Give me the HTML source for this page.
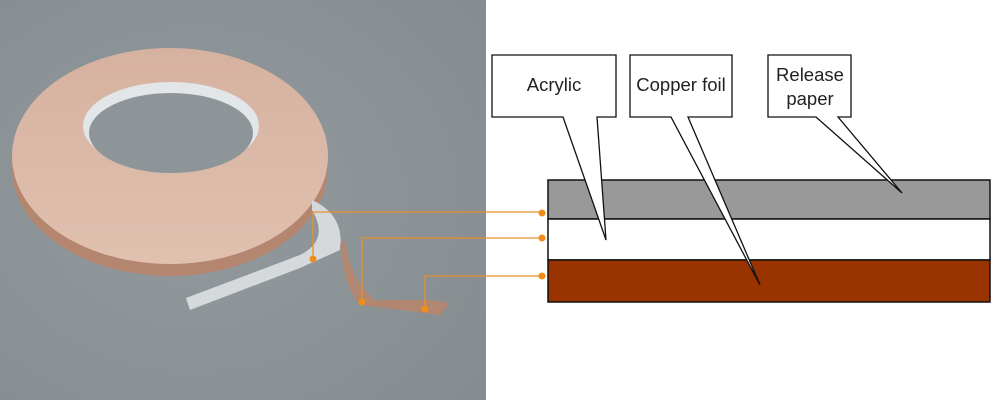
<!DOCTYPE html>
<html><head><style>body{margin:0;width:1000px;height:400px;overflow:hidden;background:#fff}</style></head>
<body>
<svg width="1000" height="400" xmlns="http://www.w3.org/2000/svg" font-family="Liberation Sans, sans-serif">
<defs>
<radialGradient id="bg" cx="0.4" cy="0.5" r="0.8"><stop offset="0" stop-color="#939a9e"/><stop offset="1" stop-color="#858c90"/></radialGradient>
<linearGradient id="cu" x1="0" y1="0" x2="0" y2="1"><stop offset="0" stop-color="#d6b1a0"/><stop offset="1" stop-color="#e0c0ae"/></linearGradient>
</defs>
<rect x="0" y="0" width="486" height="400" fill="url(#bg)"/>
<ellipse cx="170" cy="168" rx="158" ry="108" fill="#b48670"/>
<ellipse cx="170" cy="156" rx="158" ry="108" fill="url(#cu)"/>
<path d="M312 200 Q345 215 340 250 L300 268 L190 310 L186 298 L300 255 Q330 240 312 210 Z" fill="#d6d9db"/>
<path d="M340 245 Q345 290 360 305 L440 315 L450 303 L430 300 L375 300 Q350 280 345 240 Z" fill="#b18772"/>
<ellipse cx="171" cy="126" rx="88" ry="44" fill="#e3e6e8"/>
<ellipse cx="171" cy="133" rx="82" ry="40" fill="#8e9598"/>
<g stroke="#e8912a" stroke-width="1.3" fill="none">
<path d="M313 259 V212 H541"/><path d="M362 302 V238 H541"/><path d="M425 309 V276 H541"/>
</g>
<g fill="#f08c1a"><circle cx="313" cy="259" r="3.5"/><circle cx="362" cy="302" r="3.5"/><circle cx="425" cy="309" r="3.5"/>
<circle cx="542" cy="213" r="3.5"/><circle cx="542" cy="238" r="3.5"/><circle cx="542" cy="276" r="3.5"/></g>
<g stroke="#111" stroke-width="1.5">
<rect x="548" y="180" width="442" height="39" fill="#999"/>
<rect x="548" y="219" width="442" height="41" fill="#fff"/>
<rect x="548" y="260" width="442" height="42" fill="#993300"/>
</g>
<g stroke="#111" stroke-width="1.3" fill="#fff">
<path d="M492 55 H616 V117 H597 L606 240 L563 117 H492 Z"/>
<path d="M630 55 H732 V117 H688 L760 285 L671 117 H630 Z"/>
<path d="M768 55 H851 V117 H838 L902 193 L816 117 H768 Z"/>
</g>
<g font-size="18.5" fill="#222" text-anchor="middle">
<text x="554" y="91">Acrylic</text>
<text x="681" y="91">Copper foil</text>
<text x="810" y="81">Release</text>
<text x="810" y="105">paper</text>
</g>
</svg>
</body></html>
